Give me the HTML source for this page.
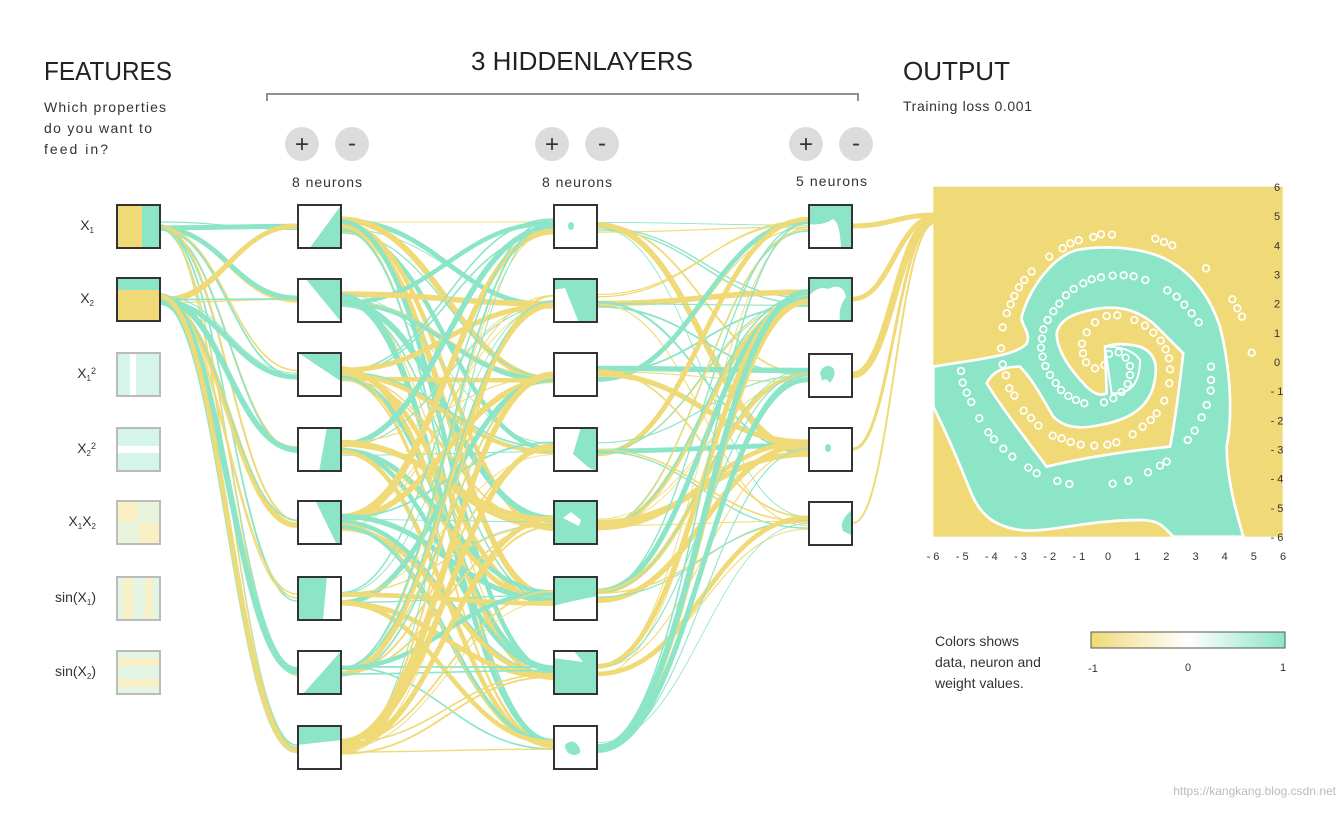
<!DOCTYPE html>
<html><head><meta charset="utf-8"><style>
html,body{margin:0;padding:0;background:#fff;}
body{width:1344px;height:808px;overflow:hidden;font-family:"Liberation Sans",sans-serif;}
</style></head><body>
<svg id="s" width="1344" height="808" viewBox="0 0 1344 808" xmlns="http://www.w3.org/2000/svg" font-family="Liberation Sans, sans-serif">
<g id="links" fill="none"></g>
<text x="44" y="80" font-size="26" fill="#222" textLength="128" lengthAdjust="spacingAndGlyphs">FEATURES</text>
<text x="44" y="112" font-size="14" fill="#333" textLength="122">Which properties</text>
<text x="44" y="133" font-size="14" fill="#333" textLength="108">do you want to</text>
<text x="44" y="154" font-size="14" fill="#333" textLength="64">feed in?</text>
<text x="582" y="70" font-size="26" fill="#222" text-anchor="middle">3 HIDDENLAYERS</text>
<path d="M267 101 V94 H858 V101" stroke="#8a929a" stroke-width="2" fill="none"/>
<text x="903" y="80" font-size="26" fill="#222" textLength="107" lengthAdjust="spacingAndGlyphs">OUTPUT</text>
<text x="903" y="111" font-size="14" fill="#333" textLength="129">Training loss 0.001</text>
<g font-size="24" fill="#333" text-anchor="middle">
<circle cx="302" cy="144" r="17" fill="#dcdcdc"/><text x="302" y="152">+</text>
<circle cx="352" cy="144" r="17" fill="#dcdcdc"/><text x="352" y="151">-</text>
<circle cx="552" cy="144" r="17" fill="#dcdcdc"/><text x="552" y="152">+</text>
<circle cx="602" cy="144" r="17" fill="#dcdcdc"/><text x="602" y="151">-</text>
<circle cx="806" cy="144" r="17" fill="#dcdcdc"/><text x="806" y="152">+</text>
<circle cx="856" cy="144" r="17" fill="#dcdcdc"/><text x="856" y="151">-</text>
</g>
<g font-size="14" fill="#333">
<text x="292" y="187" textLength="70">8 neurons</text>
<text x="542" y="187" textLength="70">8 neurons</text>
<text x="796" y="186" textLength="71">5 neurons</text>
</g>
<g font-size="14" fill="#333" text-anchor="end">
<text x="94" y="230">X<tspan font-size="8" dy="3">1</tspan></text>
<text x="94" y="303">X<tspan font-size="8" dy="3">2</tspan></text>
<text x="96" y="378">X<tspan font-size="8" dy="3">1</tspan><tspan font-size="9" dy="-7">2</tspan></text>
<text x="96" y="453">X<tspan font-size="8" dy="3">2</tspan><tspan font-size="9" dy="-7">2</tspan></text>
<text x="96" y="526">X<tspan font-size="8" dy="3">1</tspan><tspan dy="-3">X</tspan><tspan font-size="8" dy="3">2</tspan></text>
<text x="96" y="602">sin(X<tspan font-size="8" dy="3">1</tspan><tspan dy="-3">)</tspan></text>
<text x="96" y="676">sin(X<tspan font-size="8" dy="3">2</tspan><tspan dy="-3">)</tspan></text>
</g>
<g id="nodes"></g>
<svg x="920" y="180" width="380" height="380" viewBox="0 0 1140 1140">
<rect x="40" y="20" width="1048" height="1050" fill="#f0da78"/>
<path d="M40 560 C150 540 290 530 320 490 C335 460 300 430 305 410 C330 320 400 230 470 210 C560 195 680 200 760 250 C840 300 880 380 900 440 C930 560 940 700 920 800 C920 900 950 1000 970 1070 L760 1070 C730 1040 720 1020 660 1020 C500 1020 380 1060 300 1050 C230 1040 180 1010 150 930 C110 830 80 760 40 680 Z" fill="#8de5c8" stroke="#fff" stroke-width="8"/>
<path d="M200 610 C215 580 240 560 300 560 C340 600 370 660 400 710 C430 740 470 750 540 735 C620 720 680 690 700 620 C715 560 710 520 660 500 C620 490 580 490 555 500 L560 640 C540 650 520 640 500 620 C450 570 410 510 410 460 C420 410 480 395 540 385 C600 378 650 390 700 430 C740 470 790 520 790 520 C780 600 770 700 750 800 C650 810 500 830 380 860 C320 780 250 690 200 610 Z" fill="#f0da78" stroke="#fff" stroke-width="8"/>
<path d="M555 500 C600 500 640 510 660 540 C660 600 640 630 600 640 L575 640 Z" fill="#8de5c8" stroke="#fff" stroke-width="6"/>
<g id="dots" fill="none" stroke="#fff" stroke-width="5"></g>
</svg>
<g id="axes" font-size="11" fill="#333" text-anchor="middle"></g>
<g font-size="14" fill="#333">
<text x="935" y="646">Colors shows</text>
<text x="935" y="667">data, neuron and</text>
<text x="935" y="688">weight values.</text>
</g>
<defs><linearGradient id="lg" x1="0" x2="1"><stop offset="0" stop-color="#f0da78"/><stop offset="0.5" stop-color="#fff"/><stop offset="1" stop-color="#8de5c8"/></linearGradient></defs>
<rect x="1091" y="632" width="194" height="16" fill="url(#lg)" stroke="#555" stroke-width="1"/>
<g font-size="11" fill="#333" text-anchor="middle"><text x="1093" y="672">-1</text><text x="1188" y="671">0</text><text x="1283" y="671">1</text></g>
<text x="1336" y="795" font-size="12" fill="#bbb" text-anchor="end">https://kangkang.blog.csdn.net</text>
</svg>
<script>
(function(){
var NS="http://www.w3.org/2000/svg";
var T="#8de5c8",Y="#f0da78";
var seed=7;function r(){seed=(seed*16807)%2147483647;return (seed-1)/2147483646;}
var links=document.getElementById('links');
function path(x1,y1,x2,y2,c,w){var p=document.createElementNS(NS,'path');var dx=(x2-x1);
p.setAttribute('d','M'+x1+' '+y1+' C'+(x1+dx*0.45)+' '+y1+' '+(x2-dx*0.45)+' '+y2+' '+x2+' '+y2);p.setAttribute('stroke',c);p.setAttribute('stroke-width',w);links.appendChild(p);}
function wt(){var v=r();return (v<0.6?0.8+v*2:2+v*4).toFixed(1);}
var fy=[226,299,374,449,522,598,672];
var h=[226,300,374,449,522,598,672,747];
var h3=[226,299,375,449,523];
[0,1].forEach(function(i){h.forEach(function(y){for(var k=0;k<2;k++){path(160,fy[i]+(r()-0.5)*8,297,y+(r()-0.5)*8,r()<0.5?T:Y,wt());}});});
h.forEach(function(y1){h.forEach(function(y2){var n=r()<0.5?1:2;for(var k=0;k<n;k++){path(341,y1+(r()-0.5)*14,553,y2+(r()-0.5)*14,r()<0.5?T:Y,wt());}});});
h.forEach(function(y1){h3.forEach(function(y2){var n=r()<0.5?1:2;for(var k=0;k<n;k++){path(598,y1+(r()-0.5)*14,808,y2+(r()-0.5)*14,r()<0.5?T:Y,wt());}});});
h3.forEach(function(y1,i){path(853,y1,935,215+i*2,Y,[5,5,7,3,2][i]);});
var nodes=document.getElementById('nodes');
function node(x,y,inner,faded){var g=document.createElementNS(NS,'g');g.innerHTML='<svg x="'+x+'" y="'+y+'" width="45" height="45" viewBox="0 0 45 45"><rect width="45" height="45" fill="#fff"/>'+inner+'<rect x="1" y="1" width="43" height="43" fill="none" stroke="'+(faded?'#bbb':'#333')+'" stroke-width="2"/></svg>';nodes.appendChild(g);}
var fi=['<rect width="27" height="45" fill="'+Y+'"/><rect x="26" width="19" height="45" fill="'+T+'"/>',
'<rect width="45" height="14" fill="'+T+'"/><rect y="13" width="45" height="32" fill="'+Y+'"/>',
'<rect width="45" height="45" fill="#d6f5ea"/><rect x="14" width="6" height="45" fill="#fff"/>',
'<rect width="45" height="45" fill="#d6f5ea"/><rect y="19" width="45" height="7" fill="#fff"/>',
'<rect width="45" height="45" fill="#e9f4df"/><rect width="22" height="22" fill="#faf0c6"/><rect x="23" y="23" width="22" height="22" fill="#faf0c6"/>',
'<rect width="45" height="45" fill="#e4f5e6"/><rect x="7" width="10" height="45" fill="#faf0c6"/><rect x="29" width="8" height="45" fill="#faf0c6"/>',
'<rect width="45" height="45" fill="#e4f5e6"/><rect y="8" width="45" height="8" fill="#faf0c6"/><rect y="29" width="45" height="8" fill="#faf0c6"/>'];
fi.forEach(function(s,i){node(116,fy[i]-22,s,i>1);});
var l1=['<polygon points="45,0 45,45 12,45" fill="'+T+'"/>','<polygon points="8,0 45,0 45,45" fill="'+T+'"/>','<polygon points="0,0 45,0 45,30" fill="'+T+'"/>','<polygon points="30,0 45,0 45,45 22,45" fill="'+T+'"/>','<polygon points="18,0 45,0 45,45 40,45" fill="'+T+'"/>','<polygon points="0,0 30,0 26,45 0,45" fill="'+T+'"/>','<polygon points="45,0 45,45 5,45" fill="'+T+'"/>','<polygon points="0,0 45,0 45,15 0,20" fill="'+T+'"/>'];
l1.forEach(function(s,i){node(297,h[i]-22,s);});
var l2=['<ellipse cx="18" cy="22" rx="3" ry="4" fill="'+T+'"/>','<rect width="45" height="45" fill="'+T+'"/><polygon points="0,12 12,10 26,45 0,45" fill="#fff"/>','','<polygon points="28,0 45,0 45,45 35,40 20,27" fill="'+T+'"/>','<rect width="45" height="45" fill="'+T+'"/><polygon points="10,18 18,12 28,20 26,26" fill="#fff"/>','<polygon points="0,0 45,0 45,20 20,25 0,30" fill="'+T+'"/>','<rect width="45" height="45" fill="'+T+'"/><polygon points="0,0 20,0 30,12 0,8" fill="#fff"/>','<path d="M12 20 Q20 12 26 22 Q30 30 20 30 Q12 28 12 20Z" fill="'+T+'"/>'];
l2.forEach(function(s,i){node(553,h[i]-22,s);});
var l3=['<rect width="45" height="45" fill="'+T+'"/><path d="M0 20 Q15 22 25 15 Q32 18 33 45 L0 45Z" fill="#fff"/>','<rect width="45" height="45" fill="'+T+'"/><path d="M0 20 Q10 8 20 12 Q35 5 38 20 Q30 30 32 45 L0 45Z" fill="#fff"/>','<path d="M12 20 Q16 10 24 14 Q30 20 22 30 Q18 24 14 28Z" fill="'+T+'"/>','<ellipse cx="20" cy="21" rx="3" ry="4" fill="'+T+'"/>','<path d="M45 8 Q30 20 35 30 L45 35Z" fill="'+T+'"/>'];
l3.forEach(function(s,i){node(808,h3[i]-22,s);});
var pts=[[123,573],[128,608],[140,638],[154,666],[178,715],[205,757],[222,778],[250,806],[277,830],[325,863],[350,880],[412,903],[448,912],[578,911],[625,902],[684,877],[720,857],[740,845],[803,780],[824,752],[845,712],[860,675],[872,632],[873,600],[873,560],[995,518],[966,410],[952,385],[937,358],[858,265],[757,196],[732,186],[706,176],[576,164],[543,163],[520,171],[476,181],[451,190],[428,205],[388,230],[335,275],[313,300],[297,322],[283,348],[272,373],[260,400],[248,442],[243,505],[248,553],[258,586],[268,625],[283,647],[311,692],[333,714],[355,737],[398,767],[425,775],[452,786],[482,794],[523,797],[562,794],[589,787],[638,763],[668,740],[692,720],[710,700],[733,662],[748,610],[750,568],[747,535],[737,508],[722,482],[700,458],[675,437],[643,420],[592,406],[560,408],[525,427],[500,457],[486,491],[489,520],[498,547],[525,565],[553,555],[567,522],[596,517],[617,533],[630,558],[630,585],[623,612],[605,636],[580,655],[552,667],[493,670],[468,660],[445,648],[423,630],[407,609],[390,585],[376,558],[368,530],[363,503],[366,476],[370,448],[383,420],[400,394],[418,371],[438,346],[461,327],[490,310],[515,298],[543,292],[578,287],[611,286],[641,289],[676,300],[742,331],[770,350],[793,374],[815,400],[836,427]];
var d=document.getElementById('dots');pts.forEach(function(p){var c=document.createElementNS(NS,'circle');c.setAttribute('cx',p[0]);c.setAttribute('cy',p[1]);c.setAttribute('r',10);d.appendChild(c);});
var ax=document.getElementById('axes');
for(var i=0;i<=12;i++){var v=i-6;var t=document.createElementNS(NS,'text');t.setAttribute('x',933+i*29.17);t.setAttribute('y',560);t.textContent=(v<0?'- '+(-v):''+v);ax.appendChild(t);
var t2=document.createElementNS(NS,'text');t2.setAttribute('x',1277);t2.setAttribute('y',191+i*29.17);t2.textContent=(6-i<0?'- '+(i-6):''+(6-i));ax.appendChild(t2);}
})();
</script>
</body></html>
